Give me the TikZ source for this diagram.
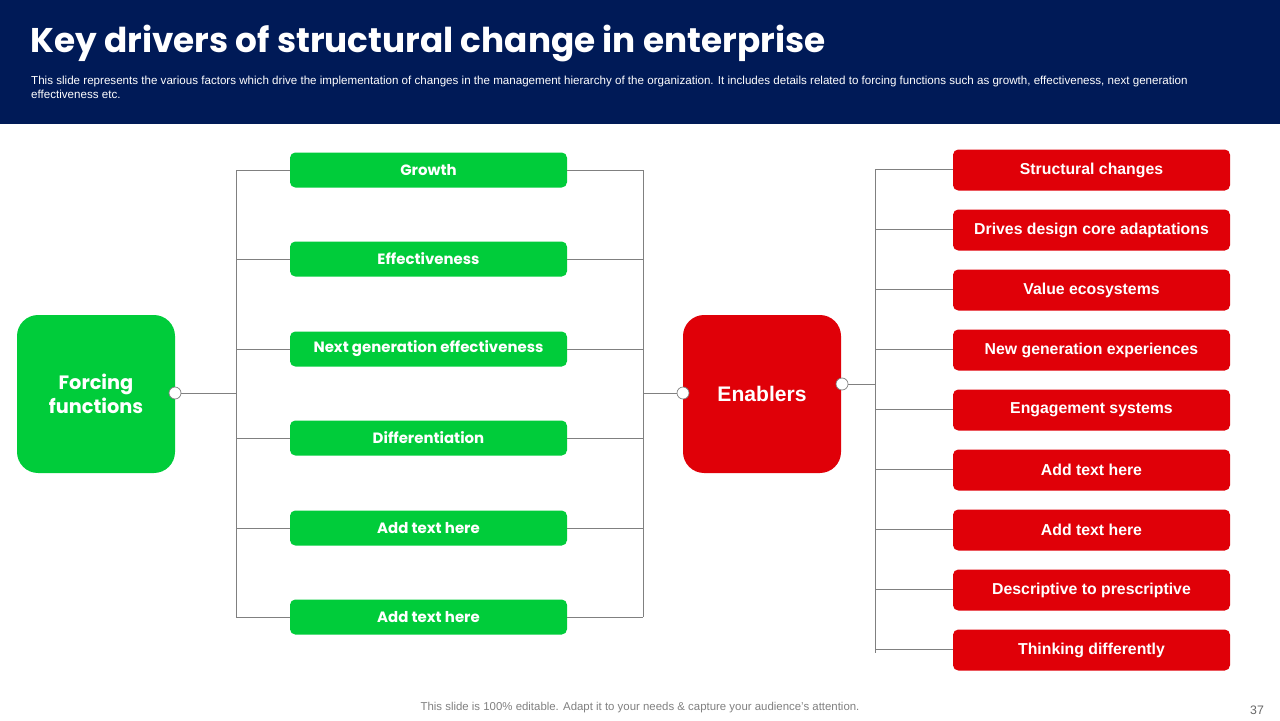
\documentclass[tikz,border=0pt]{standalone}
\usepackage{fontspec}
\setmainfont{Liberation Sans}
\newfontfamily\headfont{Poppins}
\usepackage{tikz}
\usetikzlibrary{positioning}
\definecolor{navy}{HTML}{001A57}
\definecolor{leaf}{HTML}{00CC3A}
\definecolor{crimson}{HTML}{E00008}
\definecolor{wire}{HTML}{808080}
\tikzset{
    gbox/.style={fill=leaf, rounded corners=3pt, minimum width=277*0.02cm,
        minimum height=35*0.02cm, text=white, font=\headfont\fontsize{8.5}{10}\selectfont\bfseries},
    rbox/.style={fill=crimson, rounded corners=3pt, minimum width=277*0.02cm,
        minimum height=41*0.02cm, text=white, font=\fontsize{9}{11}\selectfont\bfseries},
    hub/.style={rounded corners=12pt, minimum width=158*0.02cm, minimum height=158*0.02cm,
        text=white, align=center},
    dot/.style={circle, draw=wire, fill=white, inner sep=0pt, minimum size=12*0.02cm},
    link/.style={draw=wire, line width=0.45pt}
}
\begin{document}
\begin{tikzpicture}[x=0.02cm, y=-0.02cm]
\useasboundingbox (0,0) rectangle (1280,720);
%header
\fill[navy] (0,0) rectangle (1280,124);
\node[anchor=west, text=white, font=\headfont\fontsize{19.5}{22}\selectfont\bfseries] (title) at (24,43) {Key drivers of structural change in enterprise};
\node[anchor=north west, text=white, align=left, font=\fontsize{6.6}{8}\selectfont] (sub) at (25,70)
    {This slide represents the various factors which drive the implementation of changes in the management hierarchy of the organization. It includes details related to forcing functions such as growth, effectiveness, next generation\\effectiveness etc.};
%hubs
\node[hub, fill=leaf, font=\headfont\fontsize{11}{14}\selectfont\bfseries] (force) at (96,394) {Forcing\\functions};
\node[hub, fill=crimson, font=\fontsize{12}{14}\selectfont\bfseries] (enab) at (762,394) {Enablers};
%green boxes
\foreach \y/\t [count=\i] in {170/Growth, 259/Effectiveness, 349/Next generation effectiveness,
    438/Differentiation, 528/Add text here, 617/Add text here}
{\node[gbox] (g\i) at (428.5,\y) {\t};
 \draw[link] (236,\y) -- (g\i.west);
 \draw[link] (g\i.east) -- (643,\y);}
\draw[link] (236,170) -- (236,617);
\draw[link] (643,170) -- (643,617);
%red boxes
\foreach \y/\t [count=\i] in {170/Structural changes, 230/Drives design core adaptations,
    290/Value ecosystems, 350/New generation experiences, 410/Engagement systems,
    470/Add text here, 530/Add text here, 590/Descriptive to prescriptive, 650/Thinking differently}
{\node[rbox] (r\i) at (1091.5,\y) {\t};
 \draw[link] (875,\y-1) -- (r\i.west |- 0,\y-1);}
\draw[link] (875,169) -- (875,653);
%connectors
\node[dot] (d1) at (175,393) {};
\node[dot] (d2) at (683,393) {};
\node[dot] (d3) at (842,384) {};
\draw[link] (d1) -- (236,393);
\draw[link] (643,393) -- (d2);
\draw[link] (d3) -- (875,384);
%footer
\node[text=gray, font=\fontsize{6.5}{8}\selectfont] (foot) at (640,708) {This slide is 100\% editable. Adapt it to your needs \& capture your audience’s attention.};
\node[text=gray!80!black, font=\fontsize{7}{8}\selectfont] (pg) at (1257,710) {37};
\end{tikzpicture}
\end{document}
